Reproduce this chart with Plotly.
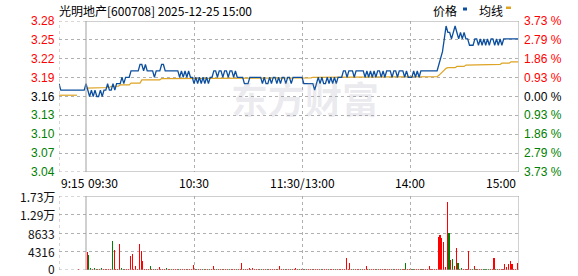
import plotly.graph_objects as go

W, H = 578, 276

# ---------------- data ----------------
stock_title = "光明地产[600708] 2025-12-25 15:00"
prev_close = 3.16
pct_max = 0.0373

price_labels = ["3.28", "3.25", "3.22", "3.19", "3.16", "3.13", "3.10", "3.07", "3.04"]
pct_labels = ["3.73 %", "2.79 %", "1.86 %", "0.93 %", "0.00 %", "0.93 %", "1.86 %", "2.79 %", "3.73 %"]
vol_ticks = [17266, 12949, 8633, 4316, 0]
vol_labels = ["1.73万", "1.29万", "8633", "4316", "0"]
time_labels = ["9:15", "09:30", "10:30", "11:30/13:00", "14:00", "15:00"]
time_pos = [0, 15, 75, 135, 195, 255]   # minute index from 9:15 (lunch break collapsed)

price = [
    3.18, 3.17, 3.17, 3.17, 3.17, 3.17, 3.17, 3.17, 3.17, 3.17, 3.17, 3.17, 3.17, 3.17, 3.17, 3.18,
    3.17, 3.16, 3.17, 3.16, 3.17, 3.16, 3.16, 3.17, 3.16, 3.17, 3.17, 3.18, 3.17, 3.17, 3.18, 3.17,
    3.18, 3.18, 3.18, 3.19, 3.18, 3.19, 3.19, 3.19, 3.20, 3.20, 3.20, 3.20, 3.20, 3.21, 3.21, 3.20,
    3.21, 3.20, 3.20, 3.20, 3.20, 3.19, 3.20, 3.20, 3.20, 3.21, 3.21, 3.20, 3.20, 3.20, 3.20, 3.20,
    3.20, 3.20, 3.20, 3.19, 3.20, 3.19, 3.20, 3.19, 3.20, 3.19, 3.19, 3.18, 3.19, 3.18, 3.19, 3.18,
    3.19, 3.18, 3.19, 3.18, 3.19, 3.19, 3.20, 3.20, 3.19, 3.20, 3.20, 3.19, 3.20, 3.20, 3.19, 3.20,
    3.20, 3.19, 3.20, 3.19, 3.19, 3.19, 3.19, 3.18, 3.18, 3.18, 3.19, 3.19, 3.19, 3.19, 3.19, 3.19,
    3.19, 3.18, 3.19, 3.18, 3.18, 3.19, 3.18, 3.19, 3.19, 3.18, 3.19, 3.18, 3.19, 3.19, 3.18, 3.19,
    3.19, 3.18, 3.19, 3.19, 3.19, 3.19, 3.19, 3.19, 3.18, 3.18, 3.18, 3.18, 3.18, 3.18, 3.17, 3.18,
    3.19, 3.18, 3.19, 3.18, 3.18, 3.19, 3.18, 3.19, 3.18, 3.19, 3.18, 3.19, 3.19, 3.19, 3.20, 3.20,
    3.19, 3.20, 3.20, 3.20, 3.19, 3.20, 3.20, 3.20, 3.20, 3.20, 3.19, 3.20, 3.19, 3.20, 3.19, 3.20,
    3.19, 3.20, 3.20, 3.19, 3.20, 3.19, 3.20, 3.20, 3.20, 3.19, 3.20, 3.20, 3.19, 3.20, 3.20, 3.20,
    3.19, 3.20, 3.19, 3.19, 3.19, 3.20, 3.19, 3.20, 3.19, 3.20, 3.20, 3.20, 3.20, 3.20, 3.20, 3.20,
    3.20, 3.20, 3.20, 3.21, 3.22, 3.23, 3.25, 3.27, 3.26, 3.26, 3.25, 3.26, 3.27, 3.26, 3.25, 3.26,
    3.25, 3.26, 3.25, 3.25, 3.24, 3.24, 3.24, 3.25, 3.25, 3.24, 3.25, 3.24, 3.25, 3.24, 3.25, 3.24,
    3.25, 3.25, 3.24, 3.25, 3.24, 3.25, 3.24, 3.25, 3.25, 3.25, 3.25, 3.25, 3.25, 3.25, 3.25, 3.25,
]

avg = [
    3.162, 3.162, 3.162, 3.162, 3.162, 3.162, 3.162, 3.162, 3.162, 3.162, 3.162, None, None, None, None, 3.173,
    3.173, 3.173, 3.173, 3.173, 3.173, 3.173, 3.174, 3.174, 3.174, 3.174, 3.174, 3.174, 3.174, 3.176, 3.176, 3.176,
    3.176, 3.176, 3.178, 3.178, 3.178, 3.178, 3.178, 3.178, 3.181, 3.181, 3.181, 3.181, 3.181, 3.181, 3.186, 3.186,
    3.186, 3.186, 3.186, 3.186, 3.186, 3.186, 3.186, 3.186, 3.186, 3.188, 3.188, 3.188, 3.188, 3.188, 3.188, 3.188,
    3.188, 3.188, 3.188, 3.188, 3.188, 3.188, 3.188, 3.188, 3.188, 3.188, 3.188, 3.189, 3.189, 3.189, 3.189, 3.189,
    3.189, 3.189, 3.189, 3.189, 3.189, 3.189, 3.189, 3.189, 3.189, 3.189, 3.189, 3.189, 3.189, 3.189, 3.189, 3.189,
    3.189, 3.189, 3.189, 3.189, 3.189, 3.189, 3.189, 3.189, 3.189, 3.189, 3.189, 3.189, 3.189, 3.189, 3.189, 3.189,
    3.189, 3.189, 3.189, 3.189, 3.189, 3.189, 3.189, 3.189, 3.189, 3.189, 3.189, 3.189, 3.189, 3.189, 3.189, 3.189,
    3.189, 3.189, 3.189, 3.189, 3.189, 3.189, 3.189, 3.189, 3.189, 3.189, 3.189, 3.189, 3.189, 3.190, 3.190, 3.190,
    3.190, 3.190, 3.190, 3.190, 3.190, 3.190, 3.190, 3.190, 3.190, 3.190, 3.190, 3.190, 3.190, 3.190, 3.190, 3.190,
    3.190, 3.190, 3.190, 3.190, 3.190, 3.190, 3.190, 3.190, 3.190, 3.190, 3.190, 3.190, 3.190, 3.190, 3.190, 3.190,
    3.190, 3.190, 3.190, 3.190, 3.190, 3.190, 3.190, 3.190, 3.190, 3.190, 3.190, 3.190, 3.190, 3.190, 3.190, 3.190,
    3.190, 3.190, 3.190, 3.190, 3.190, 3.190, 3.190, 3.190, 3.190, 3.190, 3.190, 3.190, 3.190, 3.190, 3.191, 3.191,
    3.191, 3.191, 3.191, 3.193, 3.196, 3.199, 3.202, 3.204, 3.205, 3.205, 3.205, 3.205, 3.205, 3.207, 3.207, 3.207,
    3.207, 3.207, 3.209, 3.209, 3.209, 3.209, 3.209, 3.209, 3.209, 3.209, 3.209, 3.210, 3.210, 3.210, 3.210, 3.210,
    3.210, 3.210, 3.210, 3.210, 3.210, 3.210, 3.212, 3.212, 3.212, 3.212, 3.212, 3.214, 3.214, 3.214, 3.214, 3.214,
]

volume = [
    0, 0, 0, 0, 0, 0, 0, 0, 0, 0, 300, 0, 0, 0, 0, 4270,
    3500, 470, 300, 470, 300, 300, 300, 540, 300, 300, 300, 300, 300, 6840, 4670, 300,
    300, 6070, 470, 300, 300, 300, 300, 3270, 3730, 300, 930, 300, 6070, 4500, 2100, 300,
    300, 300, 930, 300, 300, 300, 300, 700, 300, 300, 300, 540, 300, 300, 300, 300,
    300, 300, 300, 300, 300, 300, 300, 300, 300, 300, 1240, 300, 300, 300, 300, 300,
    300, 300, 300, 300, 300, 930, 300, 300, 300, 300, 300, 300, 300, 300, 300, 300,
    300, 300, 300, 300, 300, 1630, 300, 300, 300, 540, 300, 540, 300, 300, 300, 300,
    300, 300, 300, 300, 300, 300, 300, 300, 300, 300, 930, 300, 300, 300, 300, 300,
    300, 300, 300, 540, 300, 300, 300, 300, 300, 300, 300, 300, 300, 300, 300, 300,
    300, 300, 300, 300, 300, 300, 300, 300, 300, 300, 300, 300, 300, 300, 300, 2800,
    300, 1630, 300, 300, 300, 300, 300, 300, 300, 300, 930, 300, 300, 300, 300, 300,
    300, 300, 300, 300, 300, 300, 300, 300, 300, 300, 300, 300, 300, 300, 300, 300,
    1630, 300, 300, 300, 300, 300, 300, 300, 300, 300, 300, 300, 300, 930, 300, 300,
    300, 300, 7770, 8170, 7470, 6530, 780, 15870, 8700, 2330, 2570, 930, 5130, 1630, 300, 470,
    300, 300, 300, 4430, 300, 300, 930, 300, 300, 300, 300, 300, 300, 300, 300, 300,
    300, 2800, 300, 300, 300, 300, 300, 1400, 770, 1400, 2100, 1400, 300, 300, 1700, 0,
]
vol_dir = (
    "----------r----r"
    "ggrgrgrgrrrrrgrr"
    "rrggrrrrrrrrrrrr"
    "rrgrrgrrrrrgrrgr"
    "rrgrrrgrrrrrgrrg"
    "grrgrrrgrrgrrrgr"
    "rrgrrrgrrrrrrrgr"
    "grrgrrrrrgrrrgrr"
    "grrrrgrrgrrrgrrr"
    "rgrrrgrrrgrrrrrr"
    "rrrgrrrgrrrrgrrr"
    "grrrgrrrrgrrrgrr"
    "grrrgrrrrgrrrrrr"
    "rrrrrrrrgrgrrgrg"
    "rrrrrgrgrrrggggr"
    "rrggrrrrrrrrrrr-"
)

# ---------------- styling ----------------
BLUE = "#0d4f9f"
YELLOW = "#dea424"
RED = "#ff0000"
GREEN = "#008000"
GRID = "#b0b0b0"
BORDER = "#a0a0a0"
NUM_FONT = "Liberation Sans, Arial, sans-serif"
CJK_FONT = "Noto Sans CJK SC, sans-serif"

minutes = list(range(len(price)))
lo = prev_close * (1 - pct_max)
hi = prev_close * (1 + pct_max)
price_ticks = [prev_close * (1 + pct_max * k / 4) for k in range(4, -5, -1)]
x_end = 255.5
vgrid = [0, 75, 135, 195]

def px_x(p):
    return p / W

def px_y(p):
    return 1 - p / H

fig = go.Figure()

fig.add_trace(go.Scatter(x=minutes, y=avg, mode="lines", line=dict(color=YELLOW, width=1.2),
                         xaxis="x", yaxis="y", hoverinfo="skip", connectgaps=False))
fig.add_trace(go.Scatter(x=minutes, y=price, mode="lines", line=dict(color=BLUE, width=1.3),
                         xaxis="x", yaxis="y", hoverinfo="skip"))

bar_colors = [RED if d == "r" else (GREEN if d == "g" else "rgba(0,0,0,0)") for d in vol_dir]
fig.add_trace(go.Bar(x=minutes, y=volume, marker=dict(color=bar_colors, line=dict(width=0)),
                     width=0.6, offset=0.3, xaxis="x2", yaxis="y2", hoverinfo="skip"))

# axes with dotted grid lines at the tick positions
grid_axis = dict(showgrid=True, gridcolor=GRID, gridwidth=1, griddash="dot",
                 zeroline=False, showline=False, showticklabels=False, ticks="", fixedrange=True)

xdom = [px_x(59), px_x(519)]
fig.update_layout(
    width=W, height=H,
    margin=dict(l=0, r=0, t=0, b=0),
    paper_bgcolor="white", plot_bgcolor="white",
    showlegend=False,
    bargap=0,
    xaxis=dict(domain=xdom, range=[0, x_end], tickmode="array", tickvals=vgrid, anchor="y", **grid_axis),
    yaxis=dict(domain=[px_y(172), px_y(21)], range=[lo, hi], tickmode="array", tickvals=price_ticks,
               anchor="x", **grid_axis),
    xaxis2=dict(domain=xdom, range=[0, x_end], tickmode="array", tickvals=vgrid, anchor="y2", **grid_axis),
    yaxis2=dict(domain=[px_y(270), px_y(196)], range=[0, vol_ticks[0]], tickmode="array", tickvals=vol_ticks,
                anchor="x2", **grid_axis),
)

shapes = []
# dashed outer edges of the pre-market strip (grid may skip range edges)
edge = dict(color=GRID, width=1, dash="dot")
shapes.append(dict(type="line", xref="x", yref="y", x0=0, x1=15, y0=hi, y1=hi, line=edge))
shapes.append(dict(type="line", xref="x", yref="y", x0=0, x1=15, y0=lo, y1=lo, line=edge))
shapes.append(dict(type="line", xref="x", yref="y", x0=0, x1=0, y0=lo, y1=hi, line=edge))
shapes.append(dict(type="line", xref="x2", yref="y2", x0=0, x1=15, y0=vol_ticks[0], y1=vol_ticks[0], line=edge))
shapes.append(dict(type="line", xref="x2", yref="y2", x0=0, x1=15, y0=0, y1=0, line=edge))
shapes.append(dict(type="line", xref="x2", yref="y2", x0=0, x1=0, y0=0, y1=vol_ticks[0], line=edge))
# solid frames
shapes.append(dict(type="rect", xref="x", yref="y", x0=15, x1=x_end, y0=lo, y1=hi,
                   line=dict(color=BORDER, width=1), layer="above"))
shapes.append(dict(type="rect", xref="x2", yref="y2", x0=15, x1=x_end, y0=0, y1=vol_ticks[0],
                   line=dict(color=BORDER, width=1), layer="above"))
# legend swatches
shapes.append(dict(type="rect", xref="paper", yref="paper", x0=px_x(463), x1=px_x(467),
                   y0=px_y(10.5), y1=px_y(7.5), fillcolor=BLUE, line=dict(width=0)))
shapes.append(dict(type="rect", xref="paper", yref="paper", x0=px_x(506), x1=px_x(511),
                   y0=px_y(9), y1=px_y(6.5), fillcolor=YELLOW, line=dict(width=0)))
fig.update_layout(shapes=shapes)

ann = []
ann.append(dict(text="<b>东方财富</b>", xref="paper", yref="paper", x=px_x(305), y=px_y(98),
                xanchor="center", yanchor="middle", showarrow=False,
                font=dict(family=CJK_FONT, size=37, color="rgba(150,150,170,0.2)")))
ann.append(dict(text=stock_title, xref="paper", yref="paper", x=px_x(57), y=px_y(10),
                xanchor="left", yanchor="middle", showarrow=False,
                font=dict(family=CJK_FONT, size=12, color="#000")))
ann.append(dict(text="价格", xref="paper", yref="paper", x=px_x(431), y=px_y(10),
                xanchor="left", yanchor="middle", showarrow=False,
                font=dict(family=CJK_FONT, size=12, color="#000")))
ann.append(dict(text="均线", xref="paper", yref="paper", x=px_x(477), y=px_y(10),
                xanchor="left", yanchor="middle", showarrow=False,
                font=dict(family=CJK_FONT, size=12, color="#000")))

for i, (tv, lab, plab) in enumerate(zip(price_ticks, price_labels, pct_labels)):
    col = RED if i < 4 else ("#000" if i == 4 else GREEN)
    ann.append(dict(text=lab, xref="paper", yref="y", x=px_x(57), y=tv, xanchor="right",
                    yanchor="middle", showarrow=False, font=dict(family=NUM_FONT, size=12, color=col)))
    ann.append(dict(text=plab, xref="paper", yref="y", x=px_x(522), y=tv, xanchor="left",
                    yanchor="middle", showarrow=False, font=dict(family=NUM_FONT, size=12, color=col)))

for i, (tv, lab) in enumerate(zip(vol_ticks, vol_labels)):
    ann.append(dict(text=lab, xref="paper", yref="y2", x=px_x(57), y=tv, xanchor="right",
                    yanchor="middle", yshift=(2 if i == len(vol_ticks) - 1 else 0), showarrow=False,
                    font=dict(family=CJK_FONT, size=12, color="#111")))

anchors = ["left", "left", "center", "center", "center", "right"]
for tp, lab, anc in zip(time_pos, time_labels, anchors):
    ann.append(dict(text=lab, xref="x", yref="paper", x=tp, y=px_y(183), xanchor=anc,
                    yanchor="middle", showarrow=False, font=dict(family=CJK_FONT, size=12, color="#000")))

fig.update_layout(annotations=ann)

fig.write_html("out.html", config={"displayModeBar": False, "staticPlot": True})
